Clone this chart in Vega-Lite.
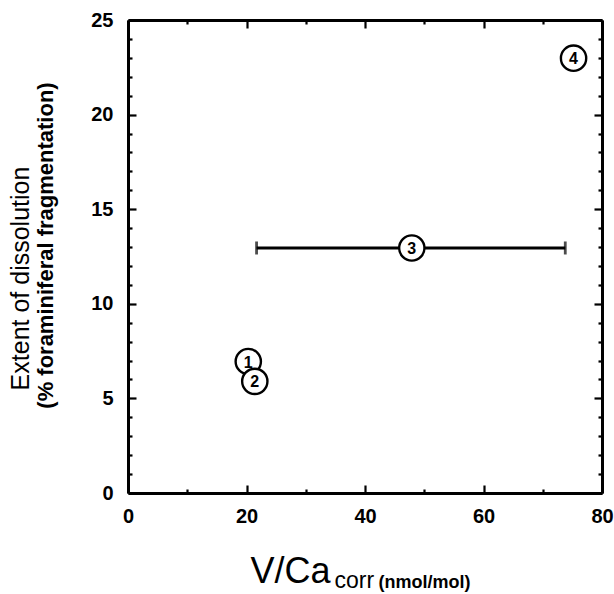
{
  "$schema": "https://vega.github.io/schema/vega-lite/v6.json",
  "autosize": {"type": "none"},
  "padding": {"left": 128, "top": 20, "right": 12, "bottom": 101},
  "width": 474,
  "height": 473,
  "background": "white",
  "config": {
    "view": {"stroke": null},
    "font": "Liberation Sans",
    "axis": {"domain": false, "grid": false, "labelFont": "Liberation Sans", "titleFont": "Liberation Sans", "labelColor": "black", "titleColor": "black", "tickColor": "black", "domainColor": "black"}
  },
  "data": {
    "values": [
      {"id": "1", "v": 20.3, "ext": 6.95, "lo": null, "hi": null},
      {"id": "2", "v": 21.4, "ext": 5.9, "lo": null, "hi": null},
      {"id": "3", "v": 47.9, "ext": 12.95, "lo": 21.7, "hi": 73.8},
      {"id": "4", "v": 75.2, "ext": 22.98, "lo": null, "hi": null}
    ]
  },
  "resolve": {"axis": {"x": "independent", "y": "independent"}},
  "layer": [
    {
      "transform": [{"filter": "datum.lo != null"}],
      "mark": {"type": "rule", "strokeWidth": 2.8, "color": "black"},
      "encoding": {
        "x": {"field": "lo", "type": "quantitative", "scale": {"domain": [0, 80], "nice": false},
          "axis": {"orient": "bottom", "ticks": false, "domain": true, "domainWidth": 3, "values": [0, 20, 40, 60, 80], "labelFontSize": 20, "labelFontWeight": "bold", "labelPadding": 13, "labelFlush": false,
            "title": "V/Ca", "titleFontSize": 36, "titleFontWeight": "normal", "titleAlign": "left", "titleBaseline": "alphabetic", "titleX": 122, "titleY": 89}},
        "x2": {"field": "hi"},
        "y": {"field": "ext", "type": "quantitative", "scale": {"domain": [0, 25], "nice": false},
          "axis": {"orient": "left", "ticks": false, "domain": true, "domainWidth": 3, "values": [0, 5, 10, 15, 20, 25], "labelFontSize": 20, "labelFontWeight": "bold", "labelPadding": 15, "labelFlush": false,
            "title": "Extent of dissolution", "titleFontSize": 25, "titleFontWeight": "normal", "titleAngle": -90, "titleAlign": "center", "titleBaseline": "alphabetic", "titleX": -100, "titleY": 258}}
      }
    },
    {
      "transform": [{"filter": "datum.lo != null"}],
      "mark": {"type": "tick", "orient": "vertical", "size": 13, "thickness": 2.8, "color": "black"},
      "encoding": {
        "x": {"field": "lo", "type": "quantitative",
          "axis": {"orient": "bottom", "labels": false, "values": [0, 10, 20, 30, 40, 50, 60, 70, 80], "tickWidth": 2.2,
            "tickSize": {"condition": {"test": "datum.value % 20 === 0", "value": -8}, "value": -4},
            "title": "corr", "titleFontSize": 23, "titleFontWeight": "normal", "titleAlign": "left", "titleBaseline": "alphabetic", "titleX": 206, "titleY": 94}},
        "y": {"field": "ext", "type": "quantitative",
          "axis": {"orient": "left", "labels": false, "values": [0,1,2,3,4,5,6,7,8,9,10,11,12,13,14,15,16,17,18,19,20,21,22,23,24,25], "tickWidth": 2.2,
            "tickSize": {"condition": {"test": "datum.value % 5 === 0", "value": -8}, "value": -4},
            "title": "(% foraminiferal  fragmentation)", "titleFontSize": 22, "titleFontWeight": "bold", "titleAngle": -90, "titleAlign": "center", "titleBaseline": "alphabetic", "titleX": -76, "titleY": 225}}
      }
    },
    {
      "transform": [{"filter": "datum.hi != null"}],
      "mark": {"type": "tick", "orient": "vertical", "size": 13, "thickness": 2.8, "color": "black"},
      "encoding": {
        "x": {"field": "hi", "type": "quantitative",
          "axis": {"orient": "top", "labels": false, "domain": true, "domainWidth": 3, "values": [0, 10, 20, 30, 40, 50, 60, 70, 80], "tickWidth": 2.2,
            "tickSize": {"condition": {"test": "datum.value % 20 === 0", "value": -8}, "value": -4}, "title": null}},
        "y": {"field": "ext", "type": "quantitative",
          "axis": {"orient": "right", "labels": false, "domain": true, "domainWidth": 3, "values": [0,1,2,3,4,5,6,7,8,9,10,11,12,13,14,15,16,17,18,19,20,21,22,23,24,25], "tickWidth": 2.2,
            "tickSize": {"condition": {"test": "datum.value % 5 === 0", "value": -8}, "value": -4}, "title": null}}
      }
    },
    {
      "mark": {"type": "point", "shape": "circle", "size": 640, "filled": false, "fill": "white", "fillOpacity": 1, "stroke": "black", "strokeWidth": 2.4, "opacity": 1},
      "encoding": {
        "x": {"field": "v", "type": "quantitative",
          "axis": {"orient": "bottom", "labels": false, "ticks": false, "title": "(nmol/mol)", "titleFontSize": 18, "titleFontWeight": "bold", "titleAlign": "left", "titleBaseline": "alphabetic", "titleX": 250, "titleY": 94}},
        "y": {"field": "ext", "type": "quantitative", "axis": null},
        "order": {"field": "id"}
      }
    },
    {
      "mark": {"type": "text", "fontSize": 16, "fontWeight": "bold", "baseline": "middle", "align": "center", "dy": 1, "color": "black"},
      "encoding": {
        "x": {"field": "v", "type": "quantitative", "axis": null},
        "y": {"field": "ext", "type": "quantitative", "axis": null},
        "text": {"field": "id"}
      }
    }
  ]
}
